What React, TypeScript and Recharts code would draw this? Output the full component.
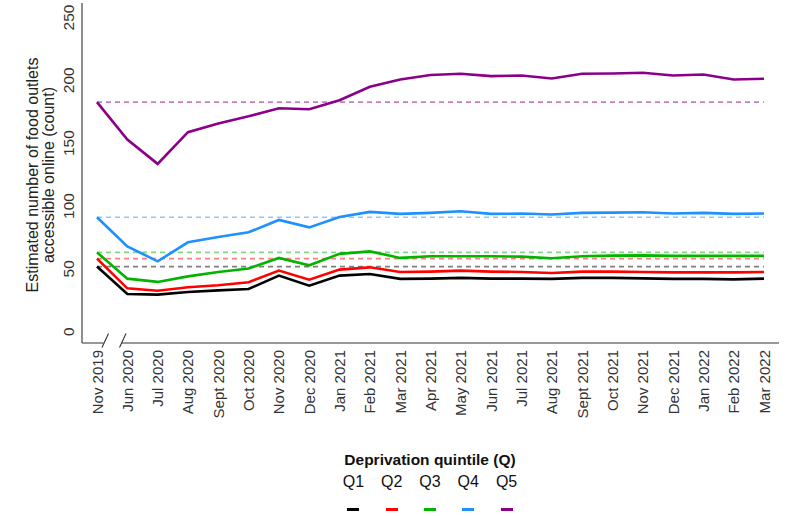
import React from 'react';
import { LineChart, Line, XAxis, YAxis, ReferenceLine, Legend, Label } from 'recharts';

const months = [
  'Nov 2019', 'Jun 2020', 'Jul 2020', 'Aug 2020', 'Sept 2020', 'Oct 2020', 'Nov 2020', 'Dec 2020',
  'Jan 2021', 'Feb 2021', 'Mar 2021', 'Apr 2021', 'May 2021', 'Jun 2021', 'Jul 2021', 'Aug 2021',
  'Sept 2021', 'Oct 2021', 'Nov 2021', 'Dec 2021', 'Jan 2022', 'Feb 2022', 'Mar 2022',
];

const q1 = [51.8, 30, 29.5, 31.6, 32.9, 34, 44.6, 36.6, 44.6, 45.9, 42, 42.2, 42.8, 42.2, 42.2, 42, 42.8, 42.8, 42.4, 42, 42, 41.6, 42.2];
const q2 = [58.1, 34.5, 32.6, 35.3, 36.9, 39.3, 48.6, 41.4, 49.4, 51.2, 47.5, 47.8, 48.6, 47.8, 47.5, 46.7, 47.8, 47.8, 47.5, 47.2, 47.2, 47.2, 47.5];
const q3 = [63.1, 42.2, 39.6, 44, 47.5, 50.2, 58.7, 52.8, 61.9, 63.9, 58.7, 60, 60, 60, 59.7, 58.4, 60, 60.5, 60.7, 60.3, 60.3, 60.3, 60.3];
const q4 = [91, 67.9, 56, 71.1, 75.4, 79.1, 88.9, 83, 91.3, 95.3, 93.7, 94.5, 95.8, 93.7, 94, 93.2, 94.5, 94.7, 95, 94, 94.5, 93.7, 94];
const q5 = [182.6, 152.9, 133.5, 158.7, 165.6, 171.4, 177.8, 177, 184.2, 194.8, 200.6, 204.2, 205.2, 203.3, 203.8, 201.4, 205.2, 205.4, 206, 203.8, 204.6, 200.6, 201.2];

const baselines = [51.8, 58.1, 63.1, 91, 182.6];
const seriesNames = ['Q1', 'Q2', 'Q3', 'Q4', 'Q5'];
const seriesColors = ['#000000', '#ff0000', '#00b400', '#1e90ff', '#8b008b'];
const seriesValues = [q1, q2, q3, q4, q5];
const yTicks = [0, 50, 100, 150, 200, 250];

const data = months.map((m, i) => {
  const row: Record<string, any> = { month: m };
  seriesNames.forEach((n, k) => {
    row[n] = seriesValues[k][i];
  });
  return row;
});

const FONT = '"Liberation Sans", Arial, Helvetica, sans-serif';
const AXIS_COLOR = '#333333';

const XTick = (props: any) => {
  const { x, y, payload, index } = props;
  const bx = x + 5.5;
  const by = y + 7;
  return (
    <g>
      {index === 0 && (
        <g>
          <line x1={x + 6.5} x2={x + 25} y1={y} y2={y} stroke="#ffffff" strokeWidth={3} />
          <line x1={x + 5} y1={y + 4.5} x2={x + 11.5} y2={y - 9.5} stroke={AXIS_COLOR} strokeWidth={1.1} />
          <line x1={x + 22.5} y1={y + 4.5} x2={x + 29} y2={y - 9.5} stroke={AXIS_COLOR} strokeWidth={1.1} />
        </g>
      )}
      <text
        x={bx}
        y={by}
        transform={`rotate(-90, ${bx}, ${by})`}
        textAnchor="end"
        fontSize={15}
        fontFamily={FONT}
        fill="#333333"
      >
        {payload.value}
      </text>
    </g>
  );
};

const YTick = (props: any) => {
  const { x, y, payload } = props;
  return (
    <text
      x={x}
      y={y}
      transform={`rotate(-90, ${x}, ${y})`}
      textAnchor="middle"
      fontSize={15.5}
      fontFamily={FONT}
      fill="#333333"
    >
      {payload.value}
    </text>
  );
};

const YTitle = (props: any) => {
  const vb = props.viewBox || { x: 0, y: 3, width: 82, height: 340 };
  const cy = vb.y + vb.height / 2 + 2;
  return (
    <g>
      <text transform={`translate(38, ${cy}) rotate(-90)`} textAnchor="middle" fontSize={16} fontFamily={FONT} fill="#222">
        Estimated number of food outlets
      </text>
      <text transform={`translate(54, ${cy}) rotate(-90)`} textAnchor="middle" fontSize={16} fontFamily={FONT} fill="#222">
        accessible online (count)
      </text>
    </g>
  );
};

const LegendContent = () => (
  <div style={{ textAlign: 'center', fontFamily: FONT, color: '#111' }}>
    <div style={{ fontWeight: 'bold', fontSize: 15.5, lineHeight: '20px' }}>Deprivation quintile (Q)</div>
    <div style={{ display: 'flex', justifyContent: 'center', marginTop: 3 }}>
      {seriesNames.map((n, i) => (
        <div key={n} style={{ width: 38.3, display: 'flex', flexDirection: 'column', alignItems: 'center' }}>
          <span style={{ fontSize: 16, lineHeight: '18px' }}>{n}</span>
          <span style={{ display: 'block', width: 12, height: 3, background: seriesColors[i], marginTop: 16.5 }} />
        </div>
      ))}
    </div>
  </div>
);

export default function App() {
  return (
    <div style={{ position: 'absolute', left: 0, top: 0, width: 800, height: 516, background: '#fff' }}>
      <LineChart
        width={800}
        height={516}
        data={data}
        margin={{ top: 3, right: 21, left: 0, bottom: 103 }}
        style={{ fontFamily: FONT }}
      >
        <XAxis
          dataKey="month"
          interval={0}
          height={70}
          padding={{ left: 15, right: 15 }}
          axisLine={{ stroke: AXIS_COLOR, strokeWidth: 1.1 }}
          tickLine={false}
          tickSize={0}
          tickMargin={0}
          tick={<XTick />}
        />
        <YAxis
          type="number"
          width={82}
          domain={[-9, 261.5]}
          allowDataOverflow
          ticks={yTicks}
          axisLine={{ stroke: AXIS_COLOR, strokeWidth: 1.1 }}
          tickLine={false}
          tickSize={0}
          tickMargin={8}
          tick={<YTick />}
        >
          <Label content={<YTitle />} position="insideLeft" />
        </YAxis>
        {baselines.map((b, i) => (
          <ReferenceLine
            key={'ref' + i}
            segment={[
              { x: months[0], y: b },
              { x: months[months.length - 1], y: b },
            ]}
            stroke={seriesColors[i]}
            strokeOpacity={0.5}
            strokeWidth={1.6}
            strokeDasharray="5 4"
          />
        ))}
        {seriesNames.map((n, i) => (
          <Line
            key={n}
            type="linear"
            dataKey={n}
            stroke={seriesColors[i]}
            strokeWidth={2.6}
            dot={false}
            activeDot={false}
            isAnimationActive={false}
          />
        ))}
        <Legend
          layout="horizontal"
          verticalAlign="middle"
          align="center"
          content={<LegendContent />}
          wrapperStyle={{ top: 450, left: 60, width: 740 }}
        />
      </LineChart>
    </div>
  );
}
